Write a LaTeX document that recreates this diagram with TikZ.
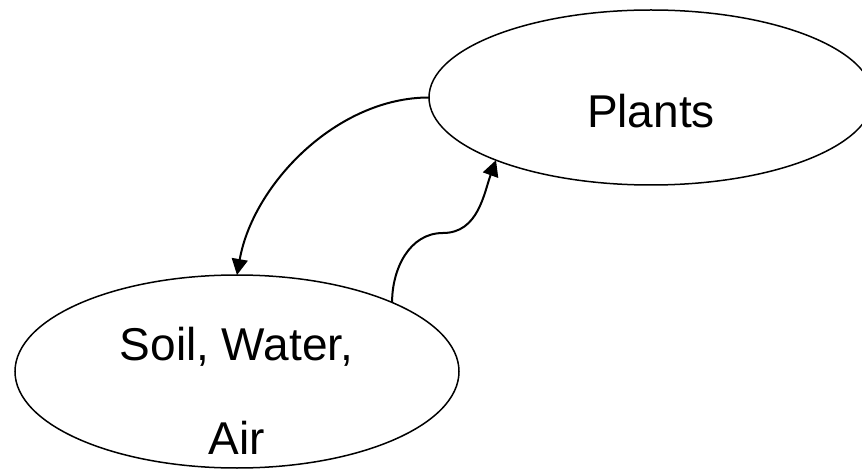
\documentclass[tikz,border=0pt]{standalone}
\usepackage{fontspec}
\setmainfont{Liberation Sans}
\usetikzlibrary{shapes.geometric,arrows.meta}
\tikzset{
  blob/.style={ellipse,draw=black,line width=1.5pt,inner sep=0pt,outer sep=0pt},
  lbl/.style={anchor=base,inner sep=0pt,font=\fontsize{46pt}{50pt}\selectfont},
  arr/.style={line width=2pt,-{Triangle[length=16pt,width=16pt]}}
}
\begin{document}
\begin{tikzpicture}[x=1pt,y=-1pt]
\useasboundingbox (0,0) rectangle (862,470);
\node[blob,minimum width=444pt,minimum height=175pt] (P) at (651,97.5) {};
\node[blob,minimum width=444pt,minimum height=193pt] (S) at (237,371.5) {};
\node[lbl] (pt) at (651,128) {Plants};
\node[lbl] (st1) at (236.5,360) {Soil, Water,};
\node[lbl] (st2) at (237,454) {Air};
\coordinate (m) at (443,233);
\draw[arr] (P.west) to[out=180,in=80,looseness=0.9] (S.north);
\draw[line width=2pt] (S.24) to[out=90,in=180] (m);
\draw[arr] (m) to[out=0,in=250] (P.202);
\end{tikzpicture}
\end{document}
